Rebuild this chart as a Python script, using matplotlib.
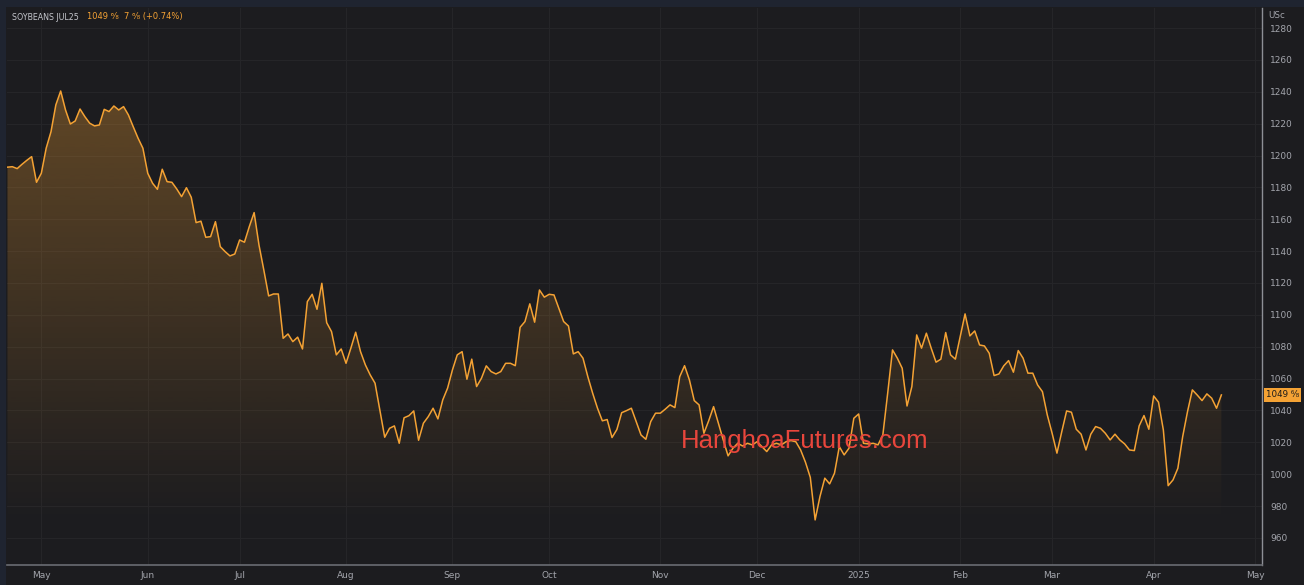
import matplotlib.pyplot as plt
import matplotlib.patches as mpatches
import matplotlib.colors as mcolors
import matplotlib.transforms as mtransforms
import numpy as np
import pandas as pd

# trading calendar (CBOT), first session shown and exchange holidays
start_date = '2024-04-22'
holidays = ['2024-05-27', '2024-06-19', '2024-07-04', '2024-09-02', '2024-11-28',
            '2024-12-25', '2025-01-01', '2025-01-20', '2025-02-17', '2025-04-18']

# daily settle, US cents / bushel
prices = [
    1192.7, 1193.0, 1191.8, 1194.5, 1197.0, 1199.3, 1183.2, 1188.9, 1204.6, 1215.0,
    1231.8, 1240.5, 1228.6, 1219.8, 1221.7, 1229.2, 1224.4, 1220.3, 1218.6, 1219.2,
    1229.0, 1227.6, 1231.1, 1228.6, 1230.7, 1225.5, 1218.1, 1210.9, 1204.6, 1188.9,
    1182.6, 1178.8, 1191.4, 1183.6, 1183.2, 1179.0, 1174.2, 1179.8, 1173.8, 1157.9,
    1158.8, 1148.7, 1149.1, 1158.5, 1142.8, 1139.7, 1137.0, 1138.2, 1147.0, 1145.6,
    1155.4, 1164.2, 1143.9, 1128.2, 1111.9, 1113.1, 1113.1, 1085.3, 1088.0, 1083.2,
    1086.0, 1078.6, 1108.3, 1112.9, 1103.5, 1119.8, 1095.1, 1089.5, 1074.9, 1078.6,
    1069.6, 1079.1, 1089.1, 1076.9, 1068.6, 1062.3, 1057.1, 1040.3, 1023.2, 1028.8,
    1030.3, 1019.4, 1035.4, 1036.7, 1039.7, 1021.3, 1032.0, 1036.1, 1041.4, 1034.7,
    1046.6, 1054.0, 1065.4, 1074.9, 1076.9, 1059.6, 1072.2, 1055.0, 1060.2, 1068.0,
    1064.4, 1062.9, 1064.4, 1069.6, 1069.6, 1068.1, 1092.2, 1095.8, 1106.9, 1095.4,
    1115.6, 1111.1, 1112.9, 1112.5, 1104.2, 1095.8, 1093.0, 1075.5, 1076.9, 1072.8,
    1061.2, 1050.8, 1041.4, 1033.5, 1034.3, 1023.0, 1028.0, 1038.6, 1039.9, 1041.4,
    1033.0, 1024.6, 1021.9, 1033.0, 1038.3, 1038.3, 1040.8, 1043.5, 1041.8, 1061.2,
    1068.1, 1059.2, 1046.2, 1043.5, 1025.7, 1033.6, 1042.4, 1032.0, 1021.5, 1011.5,
    1016.3, 1019.4, 1017.7, 1019.4, 1018.4, 1020.4, 1017.3, 1014.2, 1018.4, 1019.4,
    1018.4, 1020.4, 1021.1, 1020.4, 1015.2, 1007.5, 998.0, 971.3, 986.0, 997.5,
    993.9, 1000.6, 1017.3, 1012.1, 1016.3, 1035.1, 1037.8, 1019.4, 1019.0, 1019.4,
    1018.4, 1024.6, 1050.8, 1078.0, 1072.8, 1066.5, 1042.8, 1055.0, 1087.4, 1079.1,
    1088.5, 1079.1, 1070.3, 1072.2, 1088.9, 1074.9, 1072.2, 1086.3, 1100.6, 1086.8,
    1089.9, 1081.1, 1080.5, 1075.9, 1061.9, 1062.9, 1068.0, 1071.3, 1064.0, 1077.6,
    1072.8, 1063.4, 1063.4, 1056.0, 1051.8, 1037.2, 1025.7, 1013.2, 1026.7, 1039.7,
    1038.9, 1028.2, 1025.1, 1015.2, 1025.1, 1029.9, 1028.8, 1025.7, 1021.5, 1025.1,
    1021.5, 1019.0, 1015.2, 1014.8, 1030.3, 1036.8, 1028.2, 1049.1, 1045.2, 1027.8,
    992.8, 996.4, 1003.7, 1023.6, 1039.3, 1052.9, 1049.7, 1046.2, 1050.4, 1047.7,
    1041.4, 1049.75,
]

y_ticks = list(range(960, 1281, 20))
title = 'SOYBEANS JUL25'
quote = '1049 ⁶⁄₈  7 ⁶⁄₈ (+0.74%)'
last_label = '1049 ⁶⁄₈'
unit = 'USc'
watermark = 'HanghoaFutures.com'

bg = '#1c1c1f'
orange = '#f4a234'
grid_c = '#252528'
text_c = '#a3a5ac'

days = pd.bdate_range(start_date, periods=len(prices) + 12, freq='C', holidays=holidays)
x = np.arange(len(prices))

fig = plt.figure(figsize=(13.04, 5.85), dpi=100, facecolor=bg)
ax = fig.add_axes([7 / 1304, 1 - 565 / 585, 1255 / 1304, 557 / 585])
ax.set_facecolor(bg)

ylo, yhi = 943.0, 1292.6
xlo, xhi = -0.1, 259.4
ax.set_ylim(ylo, yhi)
ax.set_xlim(xlo, xhi)

# month ticks at first session of each month
idx = [i for i in range(1, len(days)) if days[i].month != days[i - 1].month]
labels = ['2025' if days[i].month == 1 else days[i].strftime('%b') for i in idx]
ax.set_xticks(idx)
ax.set_xticklabels(labels)
ax.set_yticks(y_ticks)
ax.yaxis.tick_right()
ax.tick_params(axis='both', length=0, labelsize=6.5, colors=text_c)
ax.tick_params(axis='y', pad=6)
ax.tick_params(axis='x', pad=4)
ax.grid(True, color=grid_c, linewidth=0.8)
ax.set_axisbelow(True)
for s in ['top', 'left']:
    ax.spines[s].set_visible(False)
ax.spines['right'].set_color('#8d8f96')
ax.spines['bottom'].set_color('#6a6c72')
ax.spines['right'].set_linewidth(1.0)
ax.spines['bottom'].set_linewidth(1.2)

# gradient area under the line
grad = np.zeros((256, 1, 4))
grad[..., :3] = mcolors.to_rgb(orange)
vals = np.linspace(ylo, yhi, 256)
grad[:, 0, 3] = np.clip((vals - 968) / (1250 - 968) * 0.33, 0.0, 0.36)
im = ax.imshow(grad, extent=[xlo, xhi, ylo, yhi], origin='lower', aspect='auto',
               zorder=1, interpolation='bilinear')
verts = [(x[0], ylo)] + list(zip(x, prices)) + [(x[-1], ylo)]
poly = mpatches.Polygon(verts, closed=True, facecolor='none', edgecolor='none')
ax.add_patch(poly)
im.set_clip_path(poly)

ax.plot(x, prices, color=orange, linewidth=1.1, zorder=3)

# last price tag on the axis
trans = mtransforms.blended_transform_factory(ax.transAxes, ax.transData)
ax.text(1.003, prices[-1], last_label, transform=trans, ha='left', va='center',
        fontsize=6.3, color='#1a1a1a', zorder=5, clip_on=False,
        bbox=dict(boxstyle='square,pad=0.25', facecolor=orange, edgecolor='none'))

# header
fig.patches.append(mpatches.Rectangle((0, 1 - 7 / 585), 1, 7 / 585, transform=fig.transFigure,
                                      facecolor='#1f2430', edgecolor='none'))
fig.patches.append(mpatches.Rectangle((0, 0), 6 / 1304, 1, transform=fig.transFigure,
                                      facecolor='#1f2430', edgecolor='none'))
fig.text(12 / 1304, 1 - 17 / 585, title, fontsize=5.7, color='#c4c6cc', va='center', ha='left')
fig.text(87 / 1304, 1 - 17 / 585, quote, fontsize=6.0, color=orange, va='center', ha='left')
fig.text(1268 / 1304, 1 - 16 / 585, unit, fontsize=6.3, color=text_c, va='center', ha='left')

# watermark
fig.text(805 / 1304, 1 - 441 / 585, watermark, fontsize=18.5, color='#e8463c',
         family='Liberation Sans', ha='center', va='center', zorder=10)

fig.savefig('out.png', dpi=100, facecolor=bg)
